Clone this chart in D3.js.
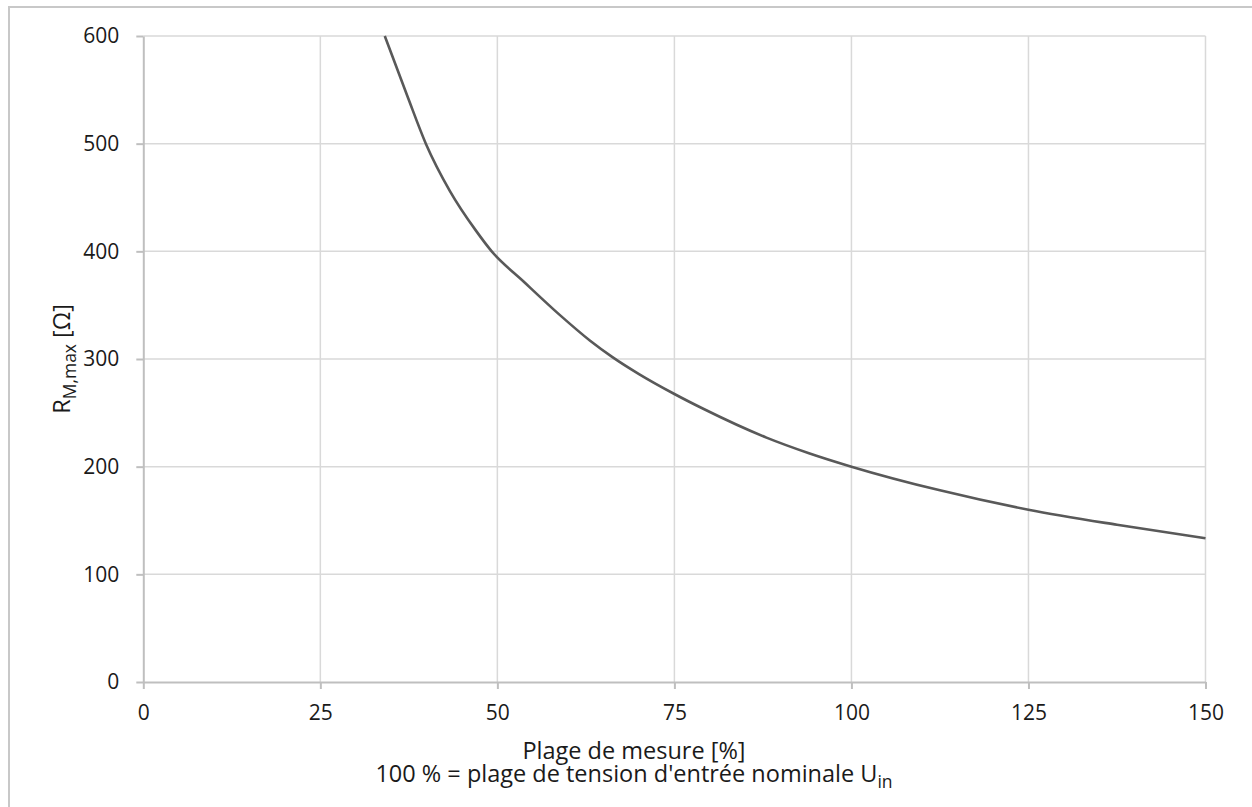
<!DOCTYPE html>
<html>
<head>
<meta charset='utf-8'>
<style>
body { margin: 0; background: #fff; }
svg text { font-family: 'Open Sans', 'Noto Sans', sans-serif; fill: #1a1a1a; }
.grid line { stroke: #d9d9d9; stroke-width: 1.5px; }
.axis path, .axis line { stroke: #bfbfbf; stroke-width: 2px; }
.line { fill: none; stroke: #595959; stroke-width: 2.6px; }
</style>
<script src='https://d3js.org/d3.v7.min.js'></script>
</head>
<body>
<svg id='chart1' width='1252' height='807'></svg>
<script>
var range = [34.1, 37.3, 39.9, 43.3, 47, 49.2, 53.7, 58.8, 63.1, 66.2, 70, 75, 79, 88, 94, 100, 112.5, 125, 137.5, 150];
// max load resistance in ohm
var rmax = [600, 544, 500, 456, 419, 400, 372, 341, 317, 302, 286, 267.5, 254, 227, 212.5, 200, 178, 160, 146, 133.5];
var xTicks = [0, 25, 50, 75, 100, 125, 150];
var yTicks = [0, 100, 200, 300, 400, 500, 600];

var svg = d3.select('#chart1');
var margin = {top: 36, right: 46.5, bottom: 125, left: 143.3};
var width = +svg.attr('width') - margin.left - margin.right;
var height = +svg.attr('height') - margin.top - margin.bottom;

// outer frame of the chart area
svg.append('rect').
    attr('x', 9).attr('y', 7).
    attr('width', 1260).attr('height', 820).
    attr('fill', 'none').
    attr('stroke', '#c8c8c8').
    attr('stroke-width', 2);

var g = svg.append('g').attr('transform',
    'translate(' + margin.left + ',' + margin.top + ')');

var x = d3.scaleLinear().domain([0, 150]).range([0, width]);
var y = d3.scaleLinear().domain([0, 600]).range([height, 0]);

// grid
g.append('g').attr('class', 'grid').
    selectAll('line').data(xTicks.slice(1)).enter().append('line').
    attr('x1', function(d) { return x(d); }).
    attr('x2', function(d) { return x(d); }).
    attr('y1', 0).attr('y2', height);
g.append('g').attr('class', 'grid').
    selectAll('line').data(yTicks.slice(1)).enter().append('line').
    attr('x1', 0).attr('x2', width).
    attr('y1', function(d) { return y(d); }).
    attr('y2', function(d) { return y(d); });

g.append('g').
    attr('class', 'axis').
    attr('transform', 'translate(0,' + height + ')').
    call(d3.axisBottom(x).tickValues(xTicks).tickSize(7).tickPadding(16).tickSizeOuter(0));
g.append('g').
    attr('class', 'axis').
    call(d3.axisLeft(y).tickValues(yTicks).tickSize(7).tickPadding(17).tickSizeOuter(0));
g.selectAll('.axis text').attr('font-size', 21).attr('fill', '#1a1a1a').
    style('font-family', "'Open Sans', sans-serif");

var line1 = d3.line().
    x(function(d, i) { return x(range[i]); }).
    y(function(d) { return y(d); }).
    curve(d3.curveMonotoneX);

g.append('path').
    datum(rmax).
    attr('class', 'line').
    attr('d', line1);

// x axis title, two lines in one text block
var cx = 634;
var title = svg.append('text').
    attr('text-anchor', 'middle').
    attr('font-size', 23.5);
title.append('tspan').attr('x', cx).attr('y', 759).text('Plage de mesure [%]');
var l2 = title.append('tspan').attr('x', cx).attr('y', 782);
l2.append('tspan').text("100 % = plage de tension d'entrée nominale U");
l2.append('tspan').attr('dy', 6).attr('font-size', 17.5).text('in');

var ylab = svg.append('text').
    attr('transform', 'translate(70,' + (margin.top + height / 2) + ') rotate(-90)').
    attr('text-anchor', 'middle').
    attr('font-size', 23.5);
ylab.append('tspan').text('R');
ylab.append('tspan').attr('dy', 6).attr('font-size', 17.5).text('M,max');
ylab.append('tspan').attr('dy', -6).text(' [Ω]');
</script>
</body>
</html>
